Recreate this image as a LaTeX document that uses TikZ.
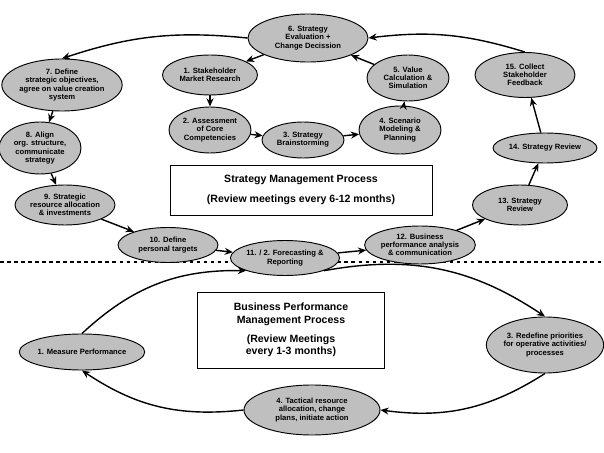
\documentclass[tikz,border=0pt]{standalone}
\usepackage{fontspec}
\setmainfont{Liberation Sans}
\usetikzlibrary{shapes.geometric, arrows.meta, positioning}
\tikzset{
    el/.style 2 args={ellipse, draw, thick, fill=black!25, inner sep=0pt, align=center,
        minimum width=#1*0.03cm, minimum height=#2*0.03cm,
        font=\fontsize{6.5}{7}\selectfont\bfseries},
    procbox/.style={rectangle, draw, fill=white, align=center, inner sep=0pt,
        font=\fontsize{9}{10.5}\selectfont\bfseries},
    ar/.style={-{Stealth[length=7pt,width=6pt]}, very thick},
}
\begin{document}
\begin{tikzpicture}[x=0.03cm, y=-0.03cm]
    \useasboundingbox (0,0) rectangle (604,453);
    % Separator
    \draw [dashed, very thick] (0,262) -- (604,262);
    % Process boxes
    \node [procbox, minimum width=262*0.03cm, minimum height=50*0.03cm] (smp) at (301,190)
        {Strategy Management Process\\[6pt](Review meetings every 6-12 months)};
    \node [procbox, minimum width=187*0.03cm, minimum height=76*0.03cm] (bpm) at (291,330)
        {Business Performance\\Management Process\\[6pt](Review Meetings\\every 1-3 months)};
    % Strategy cycle
    \node [el={120}{48}] (eval) at (308,38) {6. Strategy\\Evaluation +\\Change Decission};
    \node [el={112}{52}] (define) at (62,85) {7. Define\\strategic objectives,\\agree on value creation\\system};
    \node [el={95}{40}] (stake) at (210,75) {1. Stakeholder\\Market Research};
    \node [el={82}{46}] (value) at (408,78) {5. Value\\Calculation \&\\Simulation};
    \node [el={100}{45}] (collect) at (525,75) {15. Collect\\Stakeholder\\Feedback};
    \node [el={82}{46}] (assess) at (210,130) {2. Assessment\\of Core\\Competencies};
    \node [el={82}{36}] (brain) at (303,140) {3. Strategy\\Brainstorming};
    \node [el={82}{48}] (scen) at (400,130) {4. Scenario\\Modeling \&\\Planning};
    \node [el={82}{52}] (align) at (40,148) {8. Align\\org. structure,\\communicate\\strategy};
    \node [el={104}{30}] (rev14) at (545,148) {14. Strategy Review};
    \node [el={100}{40}] (alloc) at (65,205) {9. Strategic\\resource allocation\\\& investments};
    \node [el={95}{40}] (rev13) at (520,205) {13. Strategy\\Review};
    \node [el={100}{35}] (targets) at (168,245) {10. Define\\personal targets};
    \node [el={104}{35}] (forecast) at (285,258) {11. / 2. Forecasting \&\\Reporting};
    \node [el={104}{38}] (perf) at (420,245) {12. Business\\performance analysis\\\& communication};
    % Performance cycle
    \node [el={122}{36}] (measure) at (82,352) {1. Measure Performance};
    \node [el={112}{56}] (redef) at (545,345) {3. Redefine priorities\\for operative activities/\\processes};
    \node [el={136}{50}] (tact) at (312,410) {4. Tactical resource\\allocation, change\\plans, initiate action};
    % Outer arrows
    \draw [ar] (eval.west) to[bend right=12] (define.north);
    \draw [ar] (define) -- (align);
    \draw [ar] (align) -- (alloc);
    \draw [ar] (alloc) -- (targets);
    \draw [ar] (targets) -- (forecast);
    \draw [ar] (forecast) -- (perf);
    \draw [ar] (perf) -- (rev13);
    \draw [ar] (rev13) -- (rev14);
    \draw [ar] (rev14) -- (collect);
    \draw [ar] (collect.north) to[bend right=12] (eval.east);
    % Inner arrows
    \draw [ar] (eval) -- (stake);
    \draw [ar] (stake) -- (assess);
    \draw [ar] (assess) -- (brain);
    \draw [ar] (brain) -- (scen);
    \draw [ar] (scen) -- (value);
    \draw [ar] (value) -- (eval);
    % Lower arrows
    \draw [ar] (forecast.south east) to[bend left=22] (redef.north);
    \draw [ar] (redef.south) to[bend left=20] (tact.east);
    \draw [ar] (tact.west) to[bend left=20] (measure.south);
    \draw [ar] (measure.north) to[bend left=22] (forecast.south west);
\end{tikzpicture}
\end{document}
